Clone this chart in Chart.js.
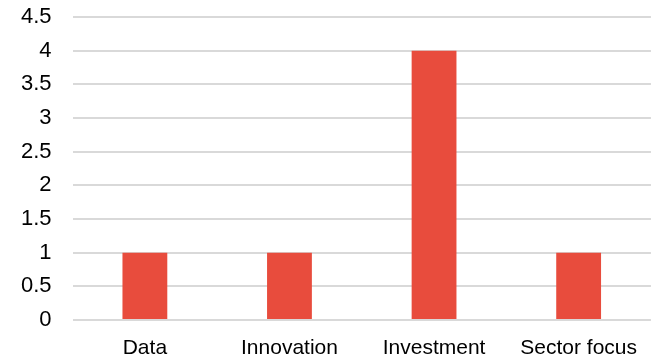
<!DOCTYPE html>
<html>
<head>
<meta charset="utf-8">
<script src="https://cdn.jsdelivr.net/npm/chart.js@4/dist/chart.umd.min.js"></script>
<style>
  html, body { margin: 0; padding: 0; background: #fff; }
  #wrap { width: 653px; height: 358px; }
</style>
</head>
<body>
<div id="wrap"><canvas id="myChart"></canvas></div>
<script>
var categories = ['Data', 'Innovation', 'Investment', 'Sector focus'];
var counts = [1, 1, 4, 1];
var yTicks = [0, 0.5, 1, 1.5, 2, 2.5, 3, 3.5, 4, 4.5];

var ctx = document.getElementById('myChart').getContext('2d');

var chart = new Chart(ctx, {
    type: 'bar',
    data: {
        labels: categories,
        datasets: [{
            data: counts,
            backgroundColor: '#e84c3d',
            borderWidth: 0,
            categoryPercentage: 1,
            barPercentage: 0.31
        }]
    },
    options: {
        responsive: true,
        maintainAspectRatio: false,
        animation: false,
        layout: { padding: { top: 17, right: 0, left: 0, bottom: 0 } },
        plugins: {
            legend: { display: false },
            tooltip: { enabled: false }
        },
        scales: {
            x: {
                grid: { display: false, drawTicks: false },
                border: { display: false },
                ticks: {
                    color: '#000',
                    padding: 16,
                    maxRotation: 0,
                    font: { family: 'Liberation Sans', size: 21 }
                },
                // fixed height so the zero line sits just above the labels
                afterFit: function (axis) {
                    axis.height = 38;
                    axis.paddingTop = 0;
                    axis.paddingBottom = 0;
                }
            },
            y: {
                min: 0,
                max: 4.5,
                afterBuildTicks: function (axis) {
                    axis.ticks = yTicks.map(function (v) { return { value: v }; });
                },
                grid: { color: '#d9d9d9', lineWidth: 2, drawTicks: false },
                border: { display: false },
                ticks: {
                    color: '#000',
                    padding: 21,
                    font: { family: 'Liberation Sans', size: 22 },
                    callback: function (v) { return String(v); }
                },
                afterFit: function (axis) {
                    axis.paddingTop = 0;
                    axis.paddingBottom = 0;
                }
            }
        }
    }
});
</script>
</body>
</html>
